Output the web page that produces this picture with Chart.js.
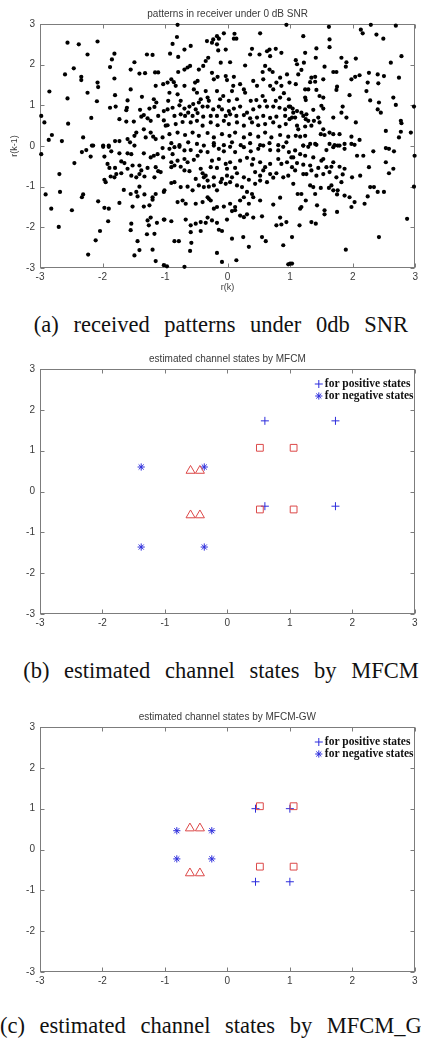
<!DOCTYPE html>
<html>
<head>
<meta charset="utf-8">
<script src="https://cdn.jsdelivr.net/npm/chart.js"></script>
<style>
  html, body { margin:0; padding:0; background:#fff; }
  body { position:relative; width:421px; height:1039px; overflow:hidden; }
  canvas { position:absolute; left:0; }
  .caption {
    position:absolute; left:0; width:442px; text-align:center; white-space:nowrap;
    font:22.5px/22px "Liberation Serif", "Times New Roman", serif; word-spacing:9px; color:#111;
  }
</style>
</head>
<body>
<canvas id="chart-a" width="421" height="300" style="top:0"></canvas>
<div class="caption" style="top:314px">(a) received patterns under 0db SNR</div>
<canvas id="chart-b" width="421" height="289" style="top:345px"></canvas>
<div class="caption" style="top:660px">(b) estimated channel states by MFCM</div>
<canvas id="chart-c" width="421" height="289" style="top:703px"></canvas>
<div class="caption" style="top:1015px">(c) estimated channel states by MFCM_GW</div>

<script>
/* ────────────────────────────────────────
   DATA
──────────────────────────────────────── */
const axisTicks = [-3, -2, -1, 0, 1, 2, 3];

const titleA = 'patterns in receiver under 0 dB SNR';
const titleB = 'estimated channel states by MFCM';
const titleC = 'estimated channel states by MFCM-GW';
const legendLabels = ['for positive states', 'for negative states'];

// (a) received patterns r(k), r(k-1), read region by region
const patternsUpperLeft = [
  [-2.56,2.54],[-2.38,2.50],[-2.08,2.57],[-2.24,2.25],[-1.81,2.27],[-1.85,2.13],[-1.88,1.94],[-1.49,2.06],[-1.29,2.25],[-1.20,2.24],
  [-2.46,1.91],[-2.60,1.76],[-2.34,1.70],[-2.34,1.62],[-2.08,1.56],[-2.07,1.45],[-1.81,1.66],[-1.55,1.88],[-1.41,1.78],[-1.32,1.79],
  [-1.16,1.81],[-1.11,1.81],[-2.85,1.34],[-2.56,1.17],[-2.24,1.31],[-2.09,1.10],[-1.80,1.25],[-1.55,1.39],[-1.15,1.48],[-1.03,1.52],
  [-2.98,0.74],[-2.93,0.58],[-2.55,0.55],[-2.18,0.69],[-1.88,0.94],[-1.79,0.97],[-1.60,1.12],[-1.61,0.94],[-1.62,0.88],[-1.40,0.89],
  [-1.37,1.21],[-1.25,0.92],[-1.18,1.15],[-1.14,1.07],[-1.17,0.96],[-1.73,0.66],[-1.62,0.60],[-1.50,0.60],[-1.38,0.72],[-1.34,0.76],
  [-1.28,0.68],[-1.23,0.62],[-1.11,0.74],[-1.02,0.86],[-1.02,0.63],[-2.81,0.27],[-2.86,0.15],[-2.65,0.12],[-2.31,0.21],[-2.17,0.01],
  [-1.99,0.01],[-1.90,0.01],[-1.80,0.12],[-1.73,0.12],[-1.60,0.17],[-1.56,0.09],[-1.49,0.25],[-1.46,0.33],[-1.34,0.41],[-1.31,0.21],
  [-1.23,0.33],[-1.19,0.23],[-1.15,0.17],[-1.04,0.21],[-0.99,0.50],
];
const patternsUpperMid = [
  [-0.80,2.98],[0.94,2.98],[-0.81,2.68],[-0.88,2.51],[-0.59,2.46],[-0.69,2.37],[-0.92,2.27],[-0.79,2.19],[-0.33,2.58],[-0.25,2.54],
  [-0.17,2.70],[-0.14,2.64],[-0.06,2.77],[-0.23,2.62],[-0.17,2.50],[0.11,2.76],[0.14,2.64],[0.10,2.64],[0.52,2.77],[-0.15,2.35],
  [-0.03,2.37],[0.39,2.39],[0.36,2.25],[0.51,2.25],[0.63,2.33],[0.67,2.37],[0.77,2.39],[0.86,2.29],[0.68,2.21],[-0.31,2.17],
  [-0.35,2.09],[-0.39,1.97],[-0.46,1.88],[-0.60,1.97],[-0.64,1.93],[-0.69,1.88],[-0.79,1.82],[-0.11,2.05],[0.04,2.06],[0.28,1.98],
  [0.60,1.97],[0.56,1.82],[0.67,1.88],[0.72,1.82],[0.84,1.68],[0.78,1.56],[0.95,1.76],[0.99,1.56],[-0.90,1.64],[-0.86,1.57],
  [-0.96,1.56],[-0.83,1.48],[-0.69,1.48],[-0.52,1.56],[-0.48,1.60],[-0.25,1.80],[-0.22,1.64],[-0.16,1.70],[-0.03,1.72],[-0.01,1.62],
  [0.10,1.70],[0.09,1.48],[0.07,1.35],[0.20,1.52],[0.26,1.39],[0.28,1.31],[0.41,1.60],[0.47,1.48],[0.57,1.64],[0.68,1.48],
  [0.73,1.39],[0.86,1.48],[-0.54,1.39],[-0.49,1.31],[-0.35,1.35],[-0.32,1.19],[-0.30,1.11],[-0.43,1.15],[-0.46,1.07],[-0.93,1.31],
  [-0.80,1.27],[-0.75,1.11],[-0.95,1.11],[-0.17,1.35],[-0.12,1.15],[-0.07,1.23],[0.02,1.11],[0.15,1.15],[0.37,1.11],[0.46,1.13],
  [0.56,1.23],[0.60,1.11],[0.77,1.11],[0.84,1.19],[0.90,1.30],[0.98,1.15],[-0.96,0.90],[-0.88,0.94],[-0.77,1.00],[-0.69,0.92],
  [-0.61,0.97],[-0.55,1.03],[-0.51,0.90],[-0.40,0.97],[-0.32,0.97],[-0.23,0.90],[-0.14,0.97],[-0.09,0.90],[0.02,0.86],[0.10,0.92],
  [0.20,0.97],[0.31,0.82],[0.41,0.90],[0.51,0.97],[0.63,0.97],[0.73,0.97],[0.83,0.94],[0.92,0.90],[0.98,0.97],[-0.85,0.74],
  [-0.75,0.78],[-0.68,0.74],[-0.63,0.82],[-0.56,0.74],[-0.48,0.81],[-0.39,0.72],[-0.27,0.74],[-0.17,0.74],[-0.03,0.74],[0.04,0.78],
  [0.14,0.74],[0.26,0.76],[0.36,0.68],[0.47,0.70],[0.57,0.74],[0.68,0.69],[0.78,0.72],[0.92,0.74],[0.99,0.66],[-0.96,0.51],
  [-0.83,0.54],[-0.72,0.59],[-0.59,0.58],[-0.49,0.62],[-0.40,0.50],[-0.27,0.58],[-0.16,0.51],[-0.06,0.62],[0.02,0.54],[0.15,0.58],
  [0.26,0.50],[0.39,0.58],[0.49,0.51],[0.60,0.54],[0.73,0.58],[0.83,0.48],[0.93,0.54],[-0.93,0.29],[-0.80,0.33],[-0.68,0.27],
  [-0.56,0.33],[-0.46,0.25],[-0.32,0.32],[-0.22,0.21],[-0.09,0.29],[0.03,0.25],[0.12,0.33],[0.26,0.21],[0.36,0.29],[0.49,0.23],
  [0.60,0.33],[0.70,0.21],[0.84,0.27],[0.97,0.23],[-0.90,0.07],[-0.77,0.02],[-0.63,0.09],[-0.49,0.05],[-0.38,0.01],[-0.22,0.07],
  [-0.06,0.02],[0.07,0.09],[0.21,0.02],[0.36,0.07],[0.52,0.02],[0.67,0.07],[0.81,0.02],[0.94,0.09],
];
const patternsUpperRight = [
  [1.62,2.93],[2.29,2.98],[2.69,2.96],[2.13,2.86],[2.16,2.77],[2.38,2.74],[2.49,2.64],[1.21,2.70],[1.63,2.62],[1.63,2.43],
  [1.42,2.40],[1.24,2.29],[1.09,2.11],[1.22,2.05],[1.11,2.01],[1.41,2.17],[1.82,2.17],[1.90,2.06],[2.05,2.15],[2.61,2.05],
  [2.78,2.21],[1.55,1.95],[1.18,1.87],[1.13,1.76],[1.69,1.82],[1.74,1.82],[1.89,1.95],[1.98,1.64],[2.04,1.70],[2.11,1.74],
  [2.26,1.80],[2.40,1.76],[2.50,1.72],[2.24,1.56],[2.41,1.54],[2.74,1.68],[1.34,1.68],[1.40,1.70],[1.53,1.64],[1.09,1.52],
  [1.32,1.57],[1.40,1.58],[1.24,1.39],[1.29,1.39],[1.42,1.38],[1.75,1.46],[1.74,1.38],[2.22,1.35],[1.47,1.23],[1.53,1.19],
  [1.24,1.19],[1.25,1.13],[1.95,1.25],[2.28,1.12],[2.42,1.07],[2.65,1.19],[2.69,1.01],[2.98,0.97],[1.00,0.97],[1.04,0.92],
  [1.05,0.82],[1.11,0.86],[1.18,0.82],[1.26,0.78],[1.37,0.89],[1.50,0.99],[1.53,0.92],[1.84,0.97],[2.40,0.90],[2.45,0.82],
  [1.03,0.70],[1.08,0.70],[1.21,0.74],[1.25,0.66],[1.29,0.62],[1.38,0.62],[1.45,0.70],[1.69,0.70],[1.82,0.82],[1.90,0.70],
  [2.05,0.58],[2.77,0.62],[2.78,0.56],[2.53,0.37],[1.11,0.50],[1.13,0.41],[1.24,0.48],[1.34,0.50],[1.53,0.41],[1.49,0.29],
  [1.55,0.27],[1.63,0.33],[1.69,0.29],[1.79,0.29],[1.98,0.23],[2.11,0.15],[2.77,0.35],[2.93,0.33],[2.74,0.21],[1.09,0.25],
  [1.16,0.23],[1.24,0.25],[1.47,0.58],[1.21,0.01],[1.32,0.05],[1.40,0.05],[1.63,0.05],[1.71,0.02],[1.76,0.01],[1.87,0.05],
  [1.98,0.05],
];
const patternsLowerLeft = [
  [-2.98,-0.20],[-2.33,-0.15],[-2.26,-0.10],[-2.15,0.01],[-1.99,-0.02],[-1.90,-0.02],[-2.19,-0.26],[-2.45,-0.42],[-1.97,-0.26],[-1.86,-0.13],
  [-1.73,-0.18],[-1.60,-0.18],[-1.54,-0.20],[-1.49,0.01],[-1.34,-0.18],[-1.23,-0.28],[-1.18,-0.24],[-1.12,-0.20],[-1.04,-0.05],[-1.03,-0.28],
  [-1.92,-0.44],[-1.89,-0.54],[-1.80,-0.54],[-1.70,-0.38],[-1.65,-0.42],[-1.60,-0.56],[-1.52,-0.48],[-1.41,-0.48],[-1.38,-0.60],[-1.28,-0.54],
  [-1.15,-0.52],[-1.11,-0.62],[-1.78,-0.69],[-1.87,-0.75],[-1.81,-0.77],[-1.97,-0.83],[-1.95,-0.89],[-1.70,-0.67],[-1.54,-0.73],[-1.46,-0.77],
  [-1.41,-0.69],[-1.33,-0.75],[-1.17,-0.77],[-1.07,-0.64],[-2.69,-0.69],[-2.91,-1.19],[-2.68,-1.13],[-2.33,-1.26],[-2.31,-1.19],[-2.07,-1.36],
  [-1.97,-1.52],[-1.90,-1.54],[-1.73,-1.40],[-1.66,-1.08],[-1.55,-1.18],[-1.46,-1.13],[-1.44,-1.24],[-1.41,-1.00],[-1.33,-1.19],[-1.20,-1.26],
  [-1.15,-1.18],[-1.02,-1.13],[-1.52,-1.49],[-1.34,-1.49],[-1.25,-1.46],[-1.20,-1.32],[-2.82,-1.54],[-2.49,-1.58],[-2.70,-1.99],[-1.91,-1.85],
  [-1.54,-1.91],[-1.55,-2.07],[-1.28,-1.83],[-1.23,-1.76],[-1.26,-1.95],[-1.13,-1.89],[-1.02,-1.81],[-2.04,-2.09],[-2.11,-2.32],[-1.44,-2.34],
  [-1.29,-2.17],[-1.17,-2.16],[-1.41,-2.56],[-1.20,-2.55],[-1.49,-2.69],[-2.23,-2.67],[-1.15,-2.83],[-1.02,-2.93],
];
const patternsLowerMid = [
  [-0.93,-0.07],[-0.85,-0.03],[-0.77,-0.02],[-0.69,-0.11],[-0.59,-0.10],[-0.43,-0.13],[-0.32,-0.15],[-0.22,0.01],[-0.14,-0.07],[-0.06,-0.13],
  [0.04,-0.02],[0.12,-0.15],[0.26,-0.03],[0.37,-0.13],[0.49,-0.07],[0.57,0.01],[0.68,-0.10],[0.81,-0.11],[0.89,-0.02],[0.98,-0.15],
  [-0.88,-0.20],[-0.48,-0.24],[-0.90,-0.40],[-0.90,-0.52],[-0.80,-0.36],[-0.69,-0.32],[-0.64,-0.40],[-0.54,-0.34],[-0.43,-0.56],[-0.40,-0.67],
  [-0.35,-0.73],[-0.25,-0.36],[-0.14,-0.32],[-0.03,-0.44],[0.04,-0.40],[0.12,-0.54],[0.20,-0.36],[0.31,-0.29],[0.41,-0.32],[0.39,-0.46],
  [0.52,-0.40],[0.60,-0.52],[0.68,-0.44],[0.81,-0.32],[0.86,-0.44],[0.95,-0.40],[1.02,-0.28],[-0.27,-0.52],[-0.17,-0.54],[-0.01,-0.56],
  [-0.85,-0.48],[-0.75,-0.51],[-0.69,-0.60],[-0.61,-0.62],[-0.51,-0.81],[-0.38,-0.77],[-0.32,-0.85],[-0.22,-0.77],[-0.09,-0.81],[-0.01,-0.73],
  [0.07,-0.77],[0.15,-0.67],[0.26,-0.77],[0.34,-0.83],[0.44,-0.64],[0.52,-0.73],[0.57,-0.60],[0.68,-0.69],[0.78,-0.67],[0.89,-0.77],
  [0.97,-0.73],[-0.90,-0.91],[-0.85,-0.89],[-0.75,-1.01],[-0.64,-1.00],[-0.56,-1.09],[-0.46,-0.97],[-0.38,-1.01],[-0.30,-1.00],[-0.22,-0.97],
  [-0.17,-1.09],[-0.11,-0.89],[-0.03,-0.93],[0.04,-0.89],[0.15,-0.97],[0.23,-1.01],[0.31,-1.13],[0.39,-1.18],[0.44,-0.93],[0.52,-0.85],
  [0.63,-0.89],[0.73,-0.78],[-1.01,-1.09],[-0.80,-1.38],[-0.72,-1.34],[-0.67,-1.42],[-0.51,-1.42],[-0.40,-1.38],[-0.32,-1.26],[-0.27,-1.34],
  [-0.30,-1.30],[-0.17,-1.50],[-0.06,-1.49],[0.04,-1.42],[0.12,-1.50],[0.20,-1.34],[0.26,-1.26],[0.34,-1.42],[0.41,-1.26],[0.52,-1.34],
  [0.73,-1.44],[0.84,-1.27],[0.12,-1.58],[-0.22,-1.54],[-1.01,-1.81],[-0.90,-1.85],[-0.67,-1.81],[-0.59,-1.95],[-0.51,-1.91],[-0.43,-1.87],
  [-0.32,-1.76],[-0.35,-1.89],[-0.25,-1.83],[-0.17,-1.89],[-0.14,-2.06],[-0.09,-2.09],[-0.01,-1.81],[0.07,-1.60],[0.20,-1.71],[0.26,-1.75],
  [0.31,-1.68],[0.41,-1.76],[0.55,-1.73],[0.78,-1.95],[0.86,-1.93],[0.94,-1.87],[0.84,-1.76],[-0.59,-2.12],[-0.43,-2.09],[-0.85,-2.34],
  [-0.78,-2.34],[-0.58,-2.38],[-0.60,-2.58],[-0.17,-2.63],[0.07,-2.28],[0.25,-2.24],[0.55,-2.24],[0.61,-2.34],[0.89,-2.44],[0.34,-2.48],
  [-0.09,-2.85],[0.14,-2.81],[-0.97,-2.96],[-0.69,-2.97],[0.97,-2.91],[1.00,-2.89],
];
const patternsLowerRight = [
  [1.21,0.01],[1.29,-0.02],[1.42,0.03],[1.69,-0.03],[1.79,0.01],[1.87,-0.07],[2.03,0.03],[1.58,-0.10],[1.08,-0.11],[1.16,-0.20],
  [1.05,-0.28],[1.24,-0.24],[1.37,-0.28],[1.53,-0.32],[1.50,-0.36],[1.69,-0.40],[1.66,-0.51],[1.79,-0.51],[1.87,-0.56],[1.58,-0.52],
  [1.45,-0.54],[1.32,-0.48],[1.21,-0.46],[1.11,-0.42],[1.03,-0.52],[1.08,-0.60],[1.21,-0.69],[1.26,-0.69],[1.34,-0.60],[1.42,-0.73],
  [1.53,-0.69],[1.63,-0.64],[1.74,-0.77],[1.84,-0.70],[1.82,-0.89],[1.66,-0.97],[1.62,-1.03],[1.49,-1.03],[1.37,-1.01],[1.32,-0.97],
  [1.18,-1.18],[1.12,-1.18],[1.05,-0.93],[1.25,-1.34],[1.40,-1.18],[1.69,-1.09],[1.75,-1.19],[1.76,-1.09],[1.87,-1.22],[1.95,-1.26],
  [2.03,-1.38],[1.98,-1.50],[2.19,-1.42],[2.24,-1.24],[2.28,-1.01],[2.34,-1.01],[2.40,-1.13],[2.50,-1.13],[1.99,-0.77],[2.12,-0.73],
  [2.07,-0.24],[2.17,-0.24],[2.26,-0.52],[2.33,-0.13],[2.53,-0.05],[2.58,-0.07],[2.66,-0.13],[2.53,-0.40],[2.65,-0.56],[2.58,-0.67],
  [2.99,-0.24],[2.98,-1.00],[1.18,-1.50],[1.16,-1.54],[1.43,-1.46],[1.55,-1.58],[1.55,-1.68],[1.75,-1.62],[1.15,-1.95],[1.34,-1.87],
  [1.41,-1.91],[2.87,-1.79],[1.03,-2.24],[2.42,-2.24],[1.89,-2.55],[1.03,-2.89],
];
const receivedPatterns = [
  ...patternsUpperLeft, ...patternsUpperMid, ...patternsUpperRight,
  ...patternsLowerLeft, ...patternsLowerMid, ...patternsLowerRight,
];

// (b) MFCM estimates
const mfcmPositive  = [[0.60,1.73],[1.73,1.73],[0.60,-0.36],[1.73,-0.36]];
const mfcmNegative  = [[-1.38,0.60],[-0.37,0.60],[-1.38,-1.36],[-0.37,-1.36]];
const mfcmSquares   = [[0.52,1.07],[1.06,1.07],[0.52,-0.44],[1.06,-0.44]];
const mfcmTriangles = [[-0.59,0.51],[-0.44,0.51],[-0.59,-0.58],[-0.44,-0.58]];

// (c) MFCM-GW estimates
const gwPositive  = [[0.45,1.00],[1.00,1.00],[0.45,-0.79],[1.00,-0.79]];
const gwNegative  = [[-0.81,0.46],[-0.25,0.46],[-0.81,-0.23],[-0.25,-0.23]];
const gwSquares   = [[0.52,1.06],[1.06,1.06],[0.52,-0.42],[1.06,-0.42]];
const gwTriangles = [[-0.60,0.52],[-0.44,0.52],[-0.60,-0.58],[-0.44,-0.58]];

/* ────────────────────────────────────────
   STYLE HELPERS
──────────────────────────────────────── */
const BLUE = '#2d2ddc';
const RED  = '#dc4848';
const pts  = arr => arr.map(([x, y]) => ({ x, y }));

Chart.defaults.font.family = '"Liberation Sans", Arial, sans-serif';
Chart.defaults.color = '#333';

// MATLAB-like box with inward tick marks
const matlabBox = {
  id: 'matlabBox',
  beforeDatasetsDraw(chart) {
    const { ctx, chartArea: a, scales: { x, y } } = chart;
    const L = Math.round(a.left) + 0.5, R = Math.round(a.right) - 0.5;
    const T = Math.round(a.top) + 0.5,  B = Math.round(a.bottom) - 0.5;
    ctx.save();
    ctx.strokeStyle = '#7c7c7c';
    ctx.lineWidth = 1;
    ctx.strokeRect(L, T, R - L, B - T);
    ctx.beginPath();
    x.ticks.forEach(t => {
      const px = Math.round(x.getPixelForValue(t.value)) + 0.5;
      ctx.moveTo(px, B); ctx.lineTo(px, B - 4);
      ctx.moveTo(px, T); ctx.lineTo(px, T + 4);
    });
    y.ticks.forEach(t => {
      const py = Math.round(y.getPixelForValue(t.value)) + 0.5;
      ctx.moveTo(L, py); ctx.lineTo(L + 4, py);
      ctx.moveTo(R, py); ctx.lineTo(R - 4, py);
    });
    ctx.stroke();
    ctx.restore();
  },
};

// legend drawn inside the top-right corner of the plot box
const cornerLegend = {
  id: 'cornerLegend',
  afterDatasetsDraw(chart) {
    const items = chart.data.datasets.filter(d => d.inLegend);
    if (!items.length) return;
    const { ctx, chartArea: a } = chart;
    ctx.save();
    ctx.font = 'bold 11.5px "Liberation Serif", "Times New Roman", serif';
    ctx.textBaseline = 'middle';
    items.forEach((d, i) => {
      const yy = a.top + 15 + i * 12;
      ctx.strokeStyle = d.borderColor;
      ctx.fillStyle = d.borderColor;
      ctx.lineWidth = d.borderWidth;
      Chart.helpers.drawPoint(ctx, {
        pointStyle: d.pointStyle, radius: d.pointRadius, rotation: 0, borderWidth: d.borderWidth,
      }, a.right - 96, yy);
      ctx.fillStyle = '#111';
      ctx.fillText(d.label, a.right - 90, yy);
    });
    ctx.restore();
  },
};

function scaleOpts(withTitle, title, bottomH) {
  return {
    x: {
      type: 'linear', min: -3, max: 3,
      afterBuildTicks: s => { s.ticks = axisTicks.map(v => ({ value: v })); },
      afterFit: s => { s.height = bottomH; },
      grid: { display: false, drawTicks: false },
      border: { display: false },
      ticks: { padding: 3, font: { size: 10 }, color: '#3a3a3a' },
      title: { display: withTitle, text: title && title.x, font: { size: 9 }, padding: { top: 0, bottom: 7 }, color: '#3a3a3a' },
    },
    y: {
      type: 'linear', min: -3, max: 3,
      afterBuildTicks: s => { s.ticks = axisTicks.map(v => ({ value: v })); },
      afterFit: s => { s.width = 40; },
      grid: { display: false, drawTicks: false },
      border: { display: false },
      ticks: { padding: 5, font: { size: 10 }, color: '#3a3a3a' },
      title: { display: withTitle, text: title && title.y, font: { size: 9 }, padding: { top: 9 }, color: '#3a3a3a' },
    },
  };
}

function makePanel(id, titleText, datasets, withAxisTitles, bottomH) {
  return new Chart(document.getElementById(id), {
    type: 'scatter',
    data: { datasets },
    options: {
      responsive: false,
      animation: false,
      layout: { padding: { left: 0, right: 2, top: 0, bottom: 0 } },
      plugins: {
        legend: { display: false },
        tooltip: { enabled: false },
        title: {
          display: true, text: titleText, fullSize: false,
          font: { size: 10, weight: 'normal' }, color: '#3a3a3a',
          padding: { top: 8, bottom: 4 },
        },
      },
      scales: scaleOpts(withAxisTitles, { x: 'r(k)', y: 'r(k-1)' }, bottomH),
    },
    plugins: [matlabBox, cornerLegend],
  });
}

const marker = (data, style, color, radius, extra = {}) => ({
  data: pts(data), pointStyle: style, pointRadius: radius, pointHoverRadius: radius,
  borderColor: color, backgroundColor: 'rgba(0,0,0,0)', borderWidth: 1, clip: 6, ...extra,
});

/* ────────────────────────────────────────
   PANELS
──────────────────────────────────────── */
makePanel('chart-a', titleA, [
  marker(receivedPatterns, 'circle', '#000', 2.1, { backgroundColor: '#000', borderWidth: 0 }),
], true, 32);

makePanel('chart-b', titleB, [
  marker(mfcmSquares, 'rect', RED, 4.8),
  marker(mfcmTriangles, 'triangle', RED, 5.2),
  marker(mfcmPositive, 'cross', BLUE, 4, { label: legendLabels[0], inLegend: true }),
  marker(mfcmNegative, 'star', BLUE, 3.6, { label: legendLabels[1], inLegend: true }),
], false, 20);

makePanel('chart-c', titleC, [
  marker(gwSquares, 'rect', RED, 4.8),
  marker(gwTriangles, 'triangle', RED, 5.2),
  marker(gwPositive, 'cross', BLUE, 4, { label: legendLabels[0], inLegend: true }),
  marker(gwNegative, 'star', BLUE, 3.6, { label: legendLabels[1], inLegend: true }),
], false, 20);
</script>
</body>
</html>
